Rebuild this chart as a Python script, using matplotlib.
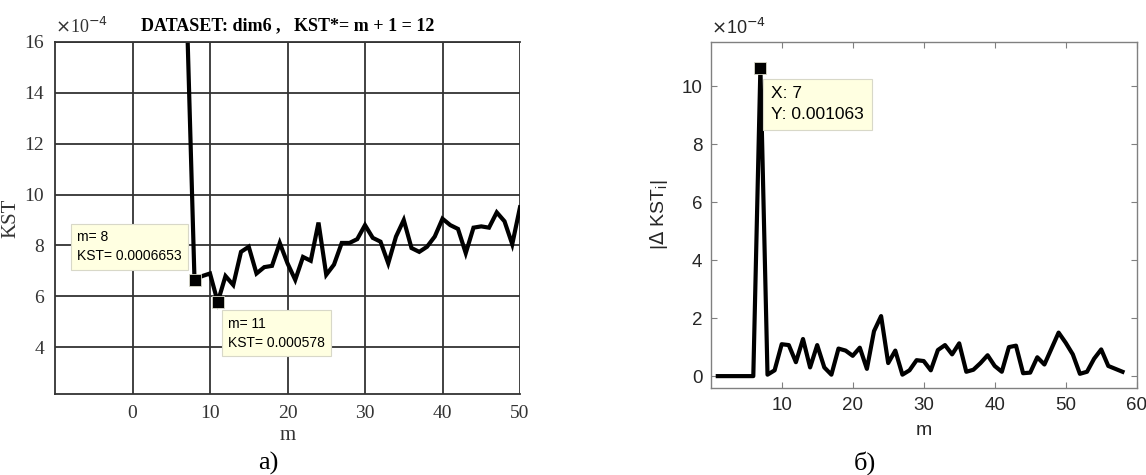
import matplotlib
matplotlib.use("Agg")
import matplotlib.pyplot as plt
import numpy as np

# ---------------- data ----------------
# panel a): KST (x1e-4) vs m
m_a = list(range(7, 51))
kst_a = [17.28, 6.653, 6.8, 6.9, 5.78, 6.8, 6.45, 7.75, 7.95, 6.9,
         7.15, 7.2, 8.1, 7.3, 6.65, 7.55, 7.4, 8.9, 6.85, 7.25,
         8.1, 8.1, 8.25, 8.8, 8.3, 8.15, 7.3, 8.35, 9.0, 7.9,
         7.75, 7.95, 8.35, 9.05, 8.8, 8.65, 7.7, 8.7, 8.75, 8.7,
         9.3, 8.95, 8.05, 9.5]
tips_a_m = [8, 11]
tips_a_v = [6.653, 5.78]
tips_a_text = ["m= 8\nKST= 0.0006653", "m= 11\nKST= 0.000578"]
xticks_a = [0, 10, 20, 30, 40, 50]
yticks_a = [4, 6, 8, 10, 12, 14, 16]

# panel б): |Δ KST_i| (x1e-4) vs m
m_b = list(range(1, 59))
dkst_b = [0, 0, 0, 0, 0, 0, 10.63, 0.05, 0.2, 1.1,
          1.07, 0.48, 1.28, 0.3, 1.07, 0.3, 0.05, 0.95, 0.88, 0.7,
          0.98, 0.25, 1.55, 2.07, 0.45, 0.88, 0.05, 0.2, 0.55, 0.52,
          0.2, 0.9, 1.07, 0.75, 1.13, 0.15, 0.22, 0.45, 0.72, 0.35,
          0.15, 1.0, 1.05, 0.1, 0.12, 0.65, 0.4, 0.95, 1.5, 1.15,
          0.75, 0.08, 0.15, 0.6, 0.92, 0.35, 0.25, 0.15]
tip_b_m = 7
tip_b_v = 10.63
tip_b_text = "X: 7\nY: 0.001063"
xticks_b = [10, 20, 30, 40, 50, 60]
yticks_b = [0, 2, 4, 6, 8, 10]

W, H = 1146, 475
fig = plt.figure(figsize=(W / 100, H / 100), dpi=100)

def frac_rect(x0, y0, x1, y1):
    return [x0 / W, 1 - y1 / H, (x1 - x0) / W, (y1 - y0) / H]

serif = "Liberation Serif"
sans = "Liberation Sans"
tipbox = dict(boxstyle="square,pad=0.45", fc="#ffffe1", ec="#d8d8c8", lw=0.8)

# ---------------- panel a ----------------
ax1 = fig.add_axes(frac_rect(55, 41.7, 520, 394))
ax1.plot(m_a, kst_a, color="black", lw=3.0, solid_joinstyle="miter", clip_on=True)
ax1.plot(tips_a_m, tips_a_v, "s", color="black", ms=8, mec="#d8d8c8", mew=0.6, zorder=5)
ax1.set_xlim(-10, 50)
ax1.set_ylim(2.17, 16)
ax1.set_xticks(xticks_a)
ax1.set_yticks(yticks_a)
ax1.grid(True, color="#333333", lw=1.3)
ax1.set_axisbelow(True)
for s in ax1.spines.values():
    s.set_color("#333333")
    s.set_linewidth(1.3)
ax1.spines["right"].set_visible(False)
ax1.tick_params(direction="in", length=0, labelsize=14, colors="#333333", pad=8)
for lab in ax1.get_xticklabels() + ax1.get_yticklabels():
    lab.set_fontfamily(serif)
ax1.set_xlabel("m", fontfamily=serif, fontsize=15, color="#333333", labelpad=3)
ax1.set_ylabel("KST", fontfamily=serif, fontsize=15, color="#333333")
ax1.yaxis.set_label_coords(-0.075, 0.5)
ax1.set_title("DATASET: dim6 ,   KST*= m + 1 = 12", fontfamily=serif,
              fontsize=13, fontweight="bold", pad=8)
ax1.text(0.0, 1.012, r"$\times$10$^{-4}$", transform=ax1.transAxes, fontfamily=serif,
         fontsize=13, color="#333333", ha="left", va="bottom")
ax1.text(-7.1, 7.96, tips_a_text[0], fontfamily=sans, fontsize=10, va="center",
         ha="left", bbox=tipbox, zorder=6, linespacing=1.5)
ax1.text(12.35, 4.55, tips_a_text[1], fontfamily=sans, fontsize=10, va="center",
         ha="left", bbox=tipbox, zorder=6, linespacing=1.5)

# ---------------- panel б ----------------
gray = "#808080"
dark = "#262626"
ax2 = fig.add_axes(frac_rect(710.7, 41.7, 1136.7, 388.3))
ax2.plot(m_b, dkst_b, color="black", lw=3.0)
ax2.plot([tip_b_m], [tip_b_v], "s", color="black", ms=8, mec="#d8d8c8", mew=0.6, zorder=5)
ax2.set_xlim(0, 60)
ax2.set_ylim(-0.42, 11.53)
ax2.set_xticks(xticks_b)
ax2.set_yticks(yticks_b)
for s in ax2.spines.values():
    s.set_color(gray)
    s.set_linewidth(1.0)
ax2.tick_params(direction="in", length=4, width=0.8, color=gray, labelcolor=dark,
                labelsize=13.5, top=True, right=True, pad=6)
for lab in ax2.get_xticklabels() + ax2.get_yticklabels():
    lab.set_fontfamily(sans)
ax2.set_xlabel("m", fontfamily=sans, fontsize=14, color=dark, labelpad=6)
ax2.set_ylabel(r"|$\Delta$ KST$_\mathregular{i}$|", fontfamily=sans, fontsize=14,
               color=dark, labelpad=8)
ax2.text(0.0, 1.01, r"$\times$10$^{-4}$", transform=ax2.transAxes, fontfamily=sans,
         fontsize=13, color=dark, ha="left", va="bottom")
ax2.text(8.5, 9.38, tip_b_text, fontfamily=sans, fontsize=12.5, va="center",
         ha="left", bbox=tipbox, zorder=6, linespacing=1.45)

# panel captions
fig.text(268 / W, 1 - 463 / H, "а)", fontfamily=serif, fontsize=19, ha="center", va="center")
fig.text(865 / W, 1 - 463 / H, "б)", fontfamily=serif, fontsize=19, ha="center", va="center")

fig.savefig("out.png", dpi=100)
